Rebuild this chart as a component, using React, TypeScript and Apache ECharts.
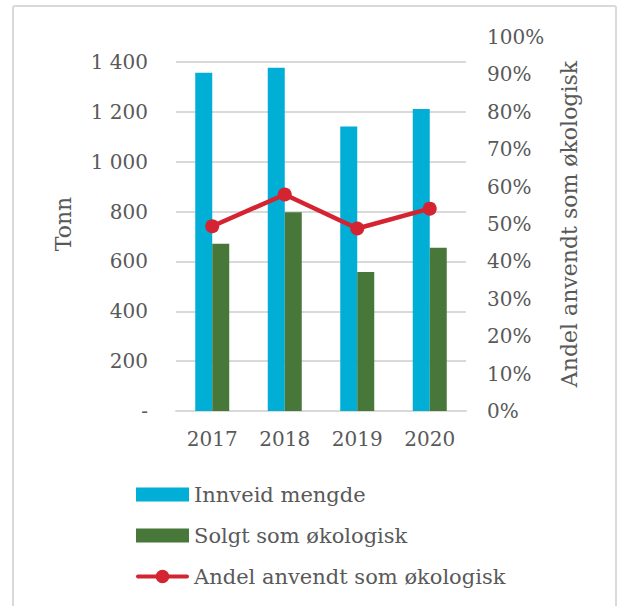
import React, { useEffect, useRef } from "react";
import * as echarts from "echarts";

const categories = ["2017", "2018", "2019", "2020"];
const innveid = [1357, 1377, 1141, 1211];
const solgt = [671, 797, 557, 655];
const andel = [0.494, 0.579, 0.488, 0.541];

const seriesNames = ["Innveid mengde", "Solgt som økologisk", "Andel anvendt som økologisk"];
const leftAxisName = "Tonn";
const rightAxisName = "Andel anvendt som økologisk";

const FONT = "DejaVu Serif";
const TEXT = "#595959";
const GRID = "#d9d9d9";

const LINE_ICON =
  "path://M2,5 L52,5 A2,2 0 0 1 52,9 L2,9 A2,2 0 0 1 2,5 Z M20,7 A7,7 0 1 1 34,7 A7,7 0 1 1 20,7 Z";

function fmtTonn(v: number): string {
  if (v === 0) return "-";
  const s = String(Math.round(v));
  return s.replace(/\B(?=(\d{3})+(?!\d))/g, " ");
}

export default function App() {
  const ref = useRef<HTMLDivElement>(null);
  useEffect(() => {
    if (!ref.current) return;
    const chart = echarts.init(ref.current, undefined, { renderer: "svg" });
    chart.setOption({
      animation: false,
      backgroundColor: "#ffffff",
      textStyle: { fontFamily: FONT, color: TEXT },
      graphic: [
        {
          type: "rect",
          shape: { x: 13, y: 6, width: 603, height: 620, r: 2 },
          style: { fill: "none", stroke: GRID, lineWidth: 2 },
          silent: true,
        },
      ],
      grid: { left: 176, right: 151, top: 37, bottom: 195, containLabel: false },
      legend: {
        orient: "vertical",
        left: 131,
        top: 479,
        itemWidth: 53,
        itemHeight: 14,
        itemGap: 20,
        textStyle: { fontFamily: FONT, color: TEXT, fontSize: 21 },
        data: [
          { name: seriesNames[0], icon: "rect" },
          { name: seriesNames[1], icon: "rect" },
          { name: seriesNames[2], icon: LINE_ICON },
        ],
      },
      xAxis: {
        type: "category",
        data: categories,
        axisTick: { show: false },
        axisLine: { lineStyle: { color: GRID, width: 2 } },
        axisLabel: { fontFamily: FONT, color: TEXT, fontSize: 20, margin: 18 },
      },
      yAxis: [
        {
          type: "value",
          min: 0,
          max: 1500,
          interval: 200,
          name: leftAxisName,
          nameLocation: "middle",
          nameGap: 102,
          nameRotate: 90,
          nameTextStyle: { fontFamily: FONT, color: TEXT, fontSize: 22 },
          axisLine: { show: false },
          axisTick: { show: false },
          axisLabel: {
            fontFamily: FONT,
            color: TEXT,
            fontSize: 20,
            margin: 28,
            showMaxLabel: false,
            formatter: (v: number) => (v > 1400 ? "" : fmtTonn(v)),
          },
          splitLine: { show: true, showMaxLine: false, lineStyle: { color: GRID, width: 2 } },
        },
        {
          type: "value",
          min: 0,
          max: 1,
          interval: 0.1,
          position: "right",
          name: rightAxisName,
          nameLocation: "middle",
          nameGap: 92,
          nameRotate: 90,
          nameTextStyle: { fontFamily: FONT, color: TEXT, fontSize: 22 },
          axisLine: { show: false },
          axisTick: { show: false },
          axisLabel: {
            fontFamily: FONT,
            color: TEXT,
            fontSize: 20,
            margin: 21,
            formatter: (v: number) => Math.round(v * 100) + "%",
          },
          splitLine: { show: false },
        },
      ],
      series: [
        {
          name: seriesNames[0],
          type: "bar",
          data: innveid,
          barWidth: 17,
          barGap: "0%",
          itemStyle: { color: "#00aed6" },
        },
        {
          name: seriesNames[1],
          type: "bar",
          data: solgt,
          barWidth: 17,
          barGap: "0%",
          itemStyle: { color: "#48773a" },
        },
        {
          name: seriesNames[2],
          type: "line",
          yAxisIndex: 1,
          data: andel,
          symbol: "circle",
          symbolSize: 14,
          lineStyle: { color: "#d42431", width: 4.5 },
          itemStyle: { color: "#d42431" },
        },
      ],
    });
    return () => chart.dispose();
  }, []);
  return (
    <div
      ref={ref}
      style={{ position: "fixed", left: 0, top: 0, width: 617, height: 606 }}
    />
  );
}
